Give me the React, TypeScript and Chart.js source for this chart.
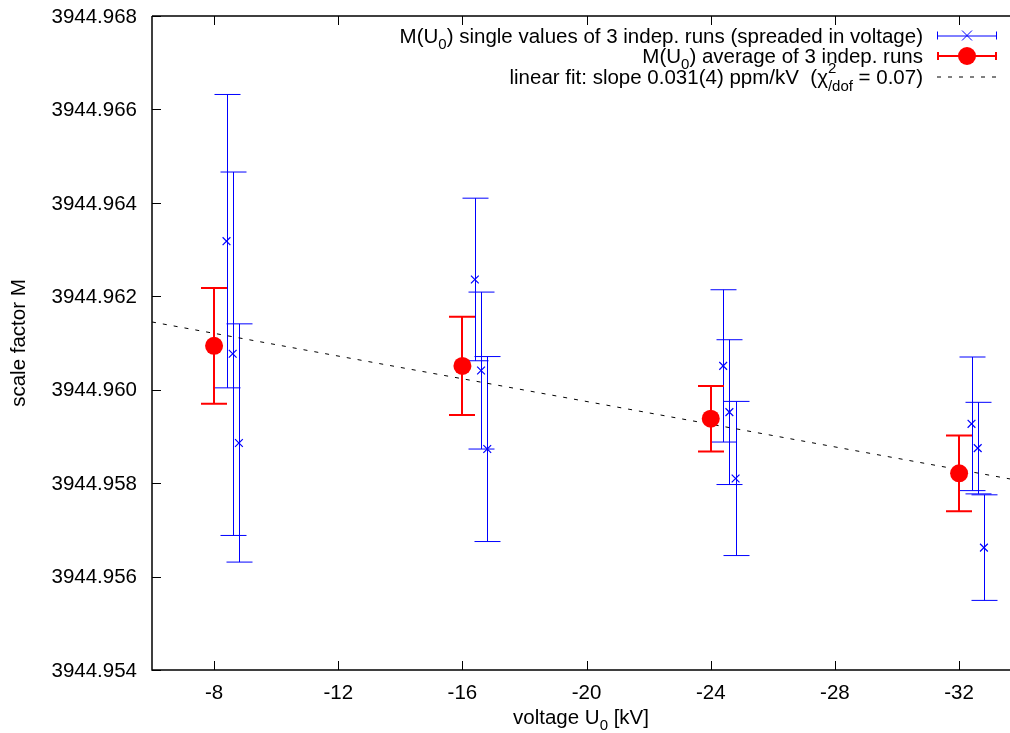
import React, { useEffect, useRef } from "react";
import { Chart, registerables } from "chart.js";

Chart.register(...registerables);

// ---- data ----
const avgVoltage = [-8, -16, -24, -32];
const avgValue = [3944.96094, 3944.96051, 3944.95938, 3944.95821];
const avgError = [0.00124, 0.00105, 0.0007, 0.00081];

const singleVoltage = [-8.4, -8.6, -8.8, -16.4, -16.6, -16.8, -24.4, -24.6, -24.8, -32.4, -32.6, -32.8];
const singleValue = [
  3944.96318, 3944.96077, 3944.95886,
  3944.96236, 3944.96041, 3944.95873,
  3944.96051, 3944.95952, 3944.9581,
  3944.95927, 3944.95875, 3944.95662,
];
const singleError = [
  0.00314, 0.00389, 0.00255,
  0.00174, 0.00168, 0.00198,
  0.00163, 0.00155, 0.00165,
  0.00143, 0.00098, 0.00113,
];

const fitVoltage = [-6, -33.64];
const fitValue = [3944.96145, 3944.95809];

const xTicks = [-8, -12, -16, -20, -24, -28, -32];
const yTicks = [3944.954, 3944.956, 3944.958, 3944.96, 3944.962, 3944.964, 3944.966, 3944.968];

const FONT = '"Liberation Sans", Arial, sans-serif';
const FS = 20.5;
const BLUE = "#0000ff";
const RED = "#ff0000";

type Seg = { t: string; k?: "sub" | "sup" | "subsup"; sup?: string };

function segWidth(ctx: CanvasRenderingContext2D, s: Seg): number {
  if (!s.k) {
    ctx.font = `${FS}px ${FONT}`;
    return ctx.measureText(s.t).width;
  }
  ctx.font = `${Math.round(FS * 0.75)}px ${FONT}`;
  const w1 = ctx.measureText(s.t).width;
  const w2 = s.sup ? ctx.measureText(s.sup).width : 0;
  return Math.max(w1, w2);
}

function drawSegs(ctx: CanvasRenderingContext2D, segs: Seg[], x: number, y: number, align: "left" | "right" | "center") {
  const widths = segs.map((s) => segWidth(ctx, s));
  const total = widths.reduce((a, b) => a + b, 0);
  let cx = align === "left" ? x : align === "right" ? x - total : x - total / 2;
  ctx.textAlign = "left";
  ctx.textBaseline = "alphabetic";
  ctx.fillStyle = "#000";
  segs.forEach((s, i) => {
    if (!s.k) {
      ctx.font = `${FS}px ${FONT}`;
      ctx.fillText(s.t, cx, y);
    } else {
      ctx.font = `${Math.round(FS * 0.75)}px ${FONT}`;
      if (s.k === "sub") ctx.fillText(s.t, cx, y + 6);
      if (s.k === "sup") ctx.fillText(s.t, cx, y - 10);
      if (s.k === "subsup") {
        ctx.fillText(s.t, cx, y + 7);
        if (s.sup) ctx.fillText(s.sup, cx, y - 11);
      }
    }
    cx += widths[i];
  });
}

const overlayPlugin = {
  id: "overlay",
  beforeDatasetsDraw(chart: any) {
    const ctx: CanvasRenderingContext2D = chart.ctx;
    const xs = chart.scales.x;
    const ys = chart.scales.y;
    const area = chart.chartArea;
    ctx.save();
    ctx.beginPath();
    ctx.rect(area.left, area.top, area.right - area.left, area.bottom - area.top);
    ctx.clip();
    const cap = 13;
    ctx.strokeStyle = BLUE;
    ctx.lineWidth = 1;
    singleVoltage.forEach((v, i) => {
      const px = Math.round(xs.getPixelForValue(v)) + 0.5;
      const top = ys.getPixelForValue(singleValue[i] + singleError[i]);
      const bot = ys.getPixelForValue(singleValue[i] - singleError[i]);
      ctx.beginPath();
      ctx.moveTo(px, top);
      ctx.lineTo(px, bot);
      ctx.moveTo(px - cap, top);
      ctx.lineTo(px + cap, top);
      ctx.moveTo(px - cap, bot);
      ctx.lineTo(px + cap, bot);
      ctx.stroke();
    });
    ctx.strokeStyle = RED;
    ctx.lineWidth = 2;
    avgVoltage.forEach((v, i) => {
      const px = Math.round(xs.getPixelForValue(v));
      const top = ys.getPixelForValue(avgValue[i] + avgError[i]);
      const bot = ys.getPixelForValue(avgValue[i] - avgError[i]);
      ctx.beginPath();
      ctx.moveTo(px, top);
      ctx.lineTo(px, bot);
      ctx.moveTo(px - cap, top);
      ctx.lineTo(px + cap, top);
      ctx.moveTo(px - cap, bot);
      ctx.lineTo(px + cap, bot);
      ctx.stroke();
    });
    ctx.restore();
  },
  afterDraw(chart: any) {
    const ctx: CanvasRenderingContext2D = chart.ctx;
    const xs = chart.scales.x;
    const ys = chart.scales.y;
    const a = chart.chartArea;
    ctx.save();
    // frame
    ctx.strokeStyle = "#000";
    ctx.lineWidth = 1.5;
    ctx.beginPath();
    ctx.moveTo(a.left, a.top);
    ctx.lineTo(a.right, a.top);
    ctx.moveTo(a.left, a.top);
    ctx.lineTo(a.left, a.bottom);
    ctx.lineTo(a.right, a.bottom);
    ctx.stroke();
    // ticks
    ctx.lineWidth = 1;
    const tl = 9;
    ctx.beginPath();
    xTicks.forEach((v) => {
      const px = Math.round(xs.getPixelForValue(v)) + 0.5;
      ctx.moveTo(px, a.bottom);
      ctx.lineTo(px, a.bottom - tl);
      ctx.moveTo(px, a.top);
      ctx.lineTo(px, a.top + tl);
    });
    yTicks.forEach((v) => {
      const py = Math.round(ys.getPixelForValue(v)) + 0.5;
      ctx.moveTo(a.left, py);
      ctx.lineTo(a.left + tl, py);
    });
    ctx.stroke();

    // tick labels
    ctx.fillStyle = "#000";
    ctx.font = `${FS}px ${FONT}`;
    ctx.textBaseline = "middle";
    ctx.textAlign = "center";
    xTicks.forEach((v) => {
      ctx.fillText(String(v), xs.getPixelForValue(v), a.bottom + 23);
    });
    ctx.textAlign = "right";
    yTicks.forEach((v) => {
      ctx.fillText(v.toFixed(3), a.left - 15, ys.getPixelForValue(v) + 1);
    });

    // axis titles
    drawSegs(ctx, [{ t: "voltage U" }, { t: "0", k: "sub" }, { t: " [kV]" }], (a.left + a.right) / 2, 724, "center");
    ctx.save();
    ctx.translate(25, (a.top + a.bottom) / 2);
    ctx.rotate(-Math.PI / 2);
    ctx.font = `${FS}px ${FONT}`;
    ctx.fillStyle = "#000";
    ctx.textAlign = "center";
    ctx.textBaseline = "alphabetic";
    ctx.fillText("scale factor M", 0, 0);
    ctx.restore();

    // legend
    const textRight = 923;
    const s0 = 937;
    const s1 = 997;
    const sc = (s0 + s1) / 2;
    const rows = [35.5, 56, 76.5];
    const base = 7;
    drawSegs(ctx, [{ t: "M(U" }, { t: "0", k: "sub" }, { t: ") single values of 3 indep. runs (spreaded in voltage)" }], textRight, rows[0] + base, "right");
    drawSegs(ctx, [{ t: "M(U" }, { t: "0", k: "sub" }, { t: ") average of 3 indep. runs" }], textRight, rows[1] + base, "right");
    drawSegs(ctx, [{ t: "linear fit: slope 0.031(4) ppm/kV  (\u03C7" }, { t: "/dof", k: "subsup", sup: "2" }, { t: " = 0.07)" }], textRight, rows[2] + base, "right");

    ctx.strokeStyle = BLUE;
    ctx.lineWidth = 1;
    ctx.beginPath();
    ctx.moveTo(s0, rows[0] + 0.5);
    ctx.lineTo(s1, rows[0] + 0.5);
    ctx.moveTo(s0 + 0.5, rows[0] - 4);
    ctx.lineTo(s0 + 0.5, rows[0] + 4);
    ctx.moveTo(s1 - 0.5, rows[0] - 4);
    ctx.lineTo(s1 - 0.5, rows[0] + 4);
    ctx.moveTo(sc - 5, rows[0] - 5);
    ctx.lineTo(sc + 5, rows[0] + 5);
    ctx.moveTo(sc - 5, rows[0] + 5);
    ctx.lineTo(sc + 5, rows[0] - 5);
    ctx.stroke();
    ctx.strokeStyle = RED;
    ctx.lineWidth = 2;
    ctx.beginPath();
    ctx.moveTo(s0, rows[1]);
    ctx.lineTo(s1, rows[1]);
    ctx.moveTo(s0 + 1, rows[1] - 4);
    ctx.lineTo(s0 + 1, rows[1] + 4);
    ctx.moveTo(s1 - 1, rows[1] - 4);
    ctx.lineTo(s1 - 1, rows[1] + 4);
    ctx.stroke();
    ctx.fillStyle = RED;
    ctx.beginPath();
    ctx.arc(sc, rows[1], 9, 0, Math.PI * 2);
    ctx.fill();
    ctx.strokeStyle = "#000";
    ctx.lineWidth = 1;
    ctx.setLineDash([4, 7]);
    ctx.beginPath();
    ctx.moveTo(s0, rows[2] + 0.5);
    ctx.lineTo(s1, rows[2] + 0.5);
    ctx.stroke();
    ctx.setLineDash([]);
    ctx.restore();
  },
};

export default function App() {
  const ref = useRef<HTMLCanvasElement | null>(null);
  useEffect(() => {
    if (!ref.current) return;
    const chart = new Chart(ref.current, {
      type: "scatter",
      data: {
        datasets: [
          {
            label: "single",
            data: singleVoltage.map((v, i) => ({ x: v, y: singleValue[i] })),
            pointStyle: "crossRot",
            pointRadius: 5.5,
            borderColor: BLUE,
            backgroundColor: BLUE,
            borderWidth: 1.2,
            showLine: false,
          },
          {
            label: "average",
            data: avgVoltage.map((v, i) => ({ x: v, y: avgValue[i] })),
            pointStyle: "circle",
            pointRadius: 9,
            borderWidth: 0,
            borderColor: RED,
            backgroundColor: RED,
            showLine: false,
          },
          {
            type: "line",
            label: "fit",
            data: fitVoltage.map((v, i) => ({ x: v, y: fitValue[i] })),
            borderColor: "#000",
            borderWidth: 1,
            borderDash: [4, 7],
            pointRadius: 0,
            fill: false,
          } as any,
        ],
      },
      options: {
        responsive: false,
        animation: false,
        devicePixelRatio: 1,
        layout: { autoPadding: false, padding: { top: 16, right: 0, left: 0, bottom: 0 } },
        plugins: { legend: { display: false }, tooltip: { enabled: false }, title: { display: false } },
        scales: {
          x: {
            type: "linear",
            reverse: true,
            min: -33.64,
            max: -6,
            grid: { display: false },
            border: { display: false },
            ticks: { display: false },
            afterBuildTicks: (s: any) => {
              s.ticks = xTicks.map((v) => ({ value: v }));
            },
            afterFit: (s: any) => {
              s.height = 63;
            },
          },
          y: {
            type: "linear",
            min: 3944.954,
            max: 3944.968,
            grid: { display: false },
            border: { display: false },
            ticks: { display: false },
            afterBuildTicks: (s: any) => {
              s.ticks = yTicks.map((v) => ({ value: v }));
            },
            afterFit: (s: any) => {
              s.width = 152;
            },
          },
        },
      },
      plugins: [overlayPlugin],
    });
    return () => chart.destroy();
  }, []);
  return (
    <div style={{ position: "fixed", left: 0, top: 0, width: 1010, height: 733, background: "#fff" }}>
      <canvas ref={ref} width={1010} height={733} style={{ display: "block" }} />
    </div>
  );
}
